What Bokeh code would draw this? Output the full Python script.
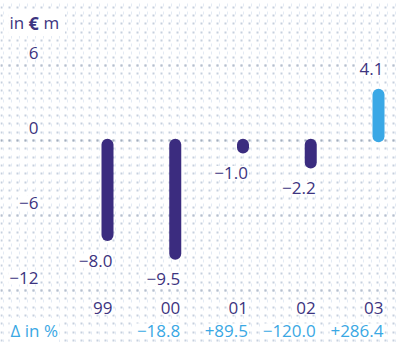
from bokeh.plotting import figure
from bokeh.models import ColumnDataSource, Range1d, FixedTicker, Span
from bokeh.core.properties import value
from bokeh.embed import file_html
from bokeh.resources import INLINE

# Annual result, in € m
years = ["99", "00", "01", "02", "03"]
results = [-8.0, -9.5, -1.0, -2.2, 4.1]
change_pct = ["", "−18.8", "+89.5", "−120.0", "+286.4"]
y_ticks = [6, 0, -6, -12]

# Layout constants (pixels)
W, H = 398, 342
PX_PER_UNIT = 12.5
ZERO_PX = 140
FIRST_X_PX = 107
STEP_PX = 67.75
BAR_W = 12
FONT = "Open Sans"
FS = "17px"
DARK = "#3b2c7f"
LIGHT = "#3aa8e6"
TEXT_DARK = "#3d3480"
TEXT_BLUE = "#3aa8e4"


def px_y(py):
    return (ZERO_PX - py) / PX_PER_UNIT


def px_x(px):
    return (px - FIRST_X_PX) / STEP_PX


def fmt(v):
    return f"{v:.1f}".replace("-", "−")


p = figure(width=W, height=H, output_backend="svg", toolbar_location=None,
           x_range=Range1d(px_x(0), px_x(W)), y_range=Range1d(px_y(H), px_y(0)),
           min_border=0, outline_line_color=None)
p.axis.visible = False

# dotted background texture: horizontal rows of dots plus faint vertical dotted lines
rows = []
t = 0.0
while t < px_y(0):
    rows.append(t)
    t += 2 / 3
t = -2 / 3
while t > px_y(H):
    rows.append(t)
    t -= 2 / 3
p.ygrid.ticker = FixedTicker(ticks=rows)
p.ygrid.grid_line_color = "#c6d0de"
p.ygrid.grid_line_dash = "2 6"
p.ygrid.grid_line_width = 2

cols = []
t = px_x(3)
while t < px_x(W):
    cols.append(t)
    t += 8 / STEP_PX
p.xgrid.ticker = FixedTicker(ticks=cols)
p.xgrid.grid_line_color = "#e4ebf4"
p.xgrid.grid_line_dash = "3 5"
p.xgrid.grid_line_width = 1

for tk in y_ticks:
    p.add_layout(Span(location=tk, dimension="width", line_color="#a3aebd" if tk == 0 else "#b6c0ce",
                      line_dash="2 6", line_width=2, level="underlay"))

xs = list(range(len(years)))
r = BAR_W / 2 / PX_PER_UNIT
sign = [1 if v >= 0 else -1 for v in results]
bars = ColumnDataSource(dict(
    x=xs,
    y0=[s * r * 0.7 for s in sign],
    y1=[v - s * r * 0.9 for v, s in zip(results, sign)],
    color=[LIGHT if v >= 0 else DARK for v in results],
))
p.segment(x0="x", x1="x", y0="y0", y1="y1", source=bars, line_color="color",
          line_width=BAR_W, line_cap="round")

label_shift = BAR_W / 2 / STEP_PX
labels = ColumnDataSource(dict(
    x=[x + label_shift for x in xs],
    y=[v + s * 20 / PX_PER_UNIT for v, s in zip(results, sign)],
    text=[fmt(v) for v in results],
))
text_style = dict(text_baseline="middle", text_font=value(FONT), text_font_size=FS,
                  background_fill_color="white", padding=1)
p.text(x="x", y="y", text="text", source=labels, text_align="right",
       text_color=TEXT_DARK, **text_style)

cats = ColumnDataSource(dict(
    x=[x + label_shift for x in xs],
    y=[px_y(307)] * len(xs),
    text=years,
))
p.text(x="x", y="y", text="text", source=cats, text_align="right",
       text_color=TEXT_DARK, **text_style)

deltas = ColumnDataSource(dict(
    x=[x + label_shift for x in xs[1:]],
    y=[px_y(330)] * (len(xs) - 1),
    text=change_pct[1:],
))
p.text(x="x", y="y", text="text", source=deltas, text_align="right",
       text_color=TEXT_BLUE, **text_style)
p.text(x=[px_x(9)], y=[px_y(330)], text=["Δ in %"], text_align="left",
       text_color=TEXT_BLUE, **text_style)

ticks = ColumnDataSource(dict(
    x=[px_x(39)] * len(y_ticks),
    y=[tk + 13 / PX_PER_UNIT for tk in y_ticks],
    text=[str(tk).replace("-", "−") for tk in y_ticks],
))
p.text(x="x", y="y", text="text", source=ticks, text_align="right",
       text_color=TEXT_DARK, **text_style)

# unit title: "in € m" with a bold euro sign, on one white box
ty = px_y(22)
p.text(x=[px_x(8)], y=[ty], text=["in     m"], text_align="left", text_color="white",
       text_baseline="middle", text_font=value(FONT), text_font_size=FS,
       background_fill_color="white", padding=2)
p.text(x=[px_x(8)], y=[ty], text=["in"], text_align="left",
       text_color=TEXT_DARK, **text_style)
p.text(x=[px_x(42)], y=[ty], text=["m"], text_align="left",
       text_color=TEXT_DARK, **text_style)
p.text(x=[px_x(27)], y=[ty], text=["€"], text_align="left", text_baseline="middle",
       text_font=value(FONT), text_font_size="18px", text_font_style="bold", text_color=TEXT_DARK,
       background_fill_color="white", padding=1)

open("out.html", "w").write(file_html(p, INLINE))
